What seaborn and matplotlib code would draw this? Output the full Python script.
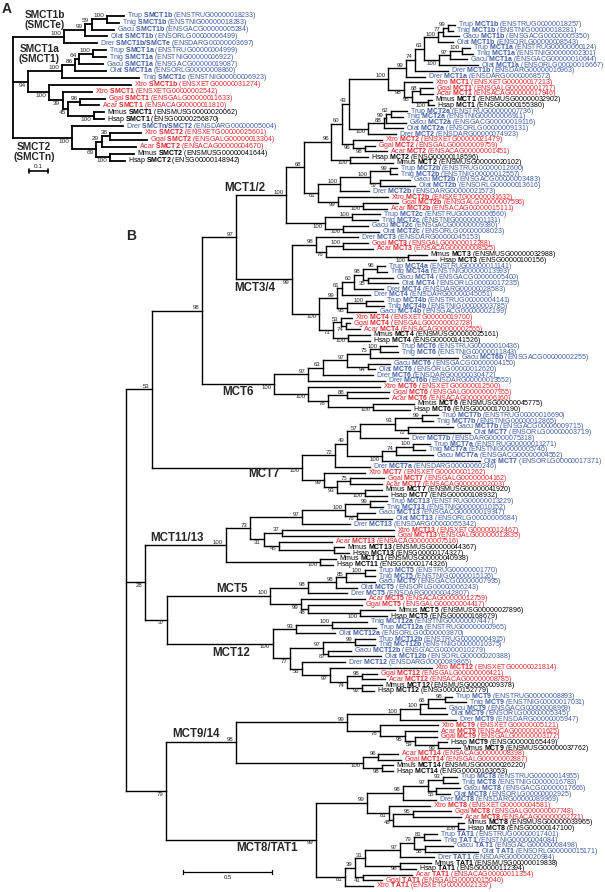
import matplotlib
matplotlib.use("Agg")
import matplotlib.pyplot as plt
from matplotlib.collections import LineCollection
import seaborn as sns

# ---------------------------------------------------------------- data
# Newick trees, branch lengths in substitutions/site, internal labels are
# bootstrap support, optionally followed by "|clade name".
smct_tree = """
(((((Trup_SMCT1b_ENSTRUG00000018233:0.092,Tnig_SMCT1b_ENSTNIG00000018283:0.064)100:0.082,
Gacu_SMCT1b_ENSGACG00000005284:0.122)59:0.037,
Olat_SMCT1b_ENSORLG00000006499:0.120)99:0.113,
Drer_SMCT1b/SMCTe_ENSDARG00000003697:0.179)100|SMCT1b:0.279,
(((((Trup_SMCT1a_ENSTRUG00000004999:0.072,Tnig_SMCT1a_ENSTNIG00000006922:0.072)100:0.078,
Gacu_SMCT1a_ENSGACG00000019087:0.131)64:0.022,
Olat_SMCT1a_ENSORLG00000008860:0.167)86:0.071,
Tnig_SMCT1c_ENSTNIG00000006923:0.423)100|SMCT1a:0.184,
(Xtro_SMCT1b_ENSXETG00000031274:0.446,
(Xtro_SMCT1_ENSXETG00000002542:0.160,
((Ggal_SMCT1_ENSGALG00000011633:0.134,Acar_SMCT1_ENSACAG00000011810:0.104)96:0.064,
(Mmus_SMCT1_ENSMUSG00000020062:0.057,Hsap_SMCT1_ENSG00000256870:0.055)100:0.140)45:0.031)39:0.073)100:0.115)94:0.082,
(Drer_SMCTn/SMCT2_ENSDARG00000005004:0.283,
(((Xtro_SMCT2_ENSXETG00000025601:0.169,Ggal_SMCT2_ENSGALG00000013304:0.205)38:0.045,
Acar_SMCT2_ENSACAG00000004670:0.187)29:0.031,
(Mmus_SMCT2_ENSMUSG00000041644:0.128,Hsap_SMCT2_ENSG00000148942:0.082)100:0.077)69:0.133)100|SMCT2:0.319);
"""

clade_mct1_2 = """
((((((((((((Trup_MCT1b_ENSTRUG00000018257:0.038,Tnig_MCT1b_ENSTNIG00000018281:0.027)99:0.032,
Gacu_MCT1b_ENSGACG00000005350:0.092)77:0.028,
Olat_MCT1b_ENSORLG00000008543:0.086)100:0.076,
(((Trup_MCT1a_ENSTRUG00000000124:0.047,Tnig_MCT1a_ENSTNIG00000002301:0.064)100:0.070,
Gacu_MCT1a_ENSGACG00000010644:0.100)97:0.057,
Olat_MCT1a_ENSORLG00000016667:0.219)100:0.085)63:0.053,
Drer_MCT1b_ENSDARG00000016963:0.186)74:0.051,
Drer_MCT1a_ENSDARG00000068572:0.107)99:0.102,
(Xtro_MCT1_ENSXETG00000017213:0.158,
((Ggal_MCT1_ENSGALG00000001717:0.073,Acar_MCT1_ENSACAG00000017946:0.073)68:0.045,
(Mmus_MCT1_ENSMUSG00000032902:0.023,Hsap_MCT1_ENSG00000155380:0.034)100:0.090)95:0.045)98:0.090)100:0.219,
((((Trup_MCT2a_ENSTRUG00000007736:0.092,Tnig_MCT2a_ENSTNIG00000006911:0.069)62:0.027,
Gacu_MCT2a_ENSGACG00000019116:0.113)99:0.011,
Olat_MCT2a_ENSORLG00000009131:0.107)88:0.089,
Drer_MCT2_ENSDARG00000074923:0.156)100:0.107)43:0.043,
(Xtro_MCT2_ENSXETG00000021479:0.162,
(Ggal_MCT2_ENSGALG00000009759:0.057,Acar_MCT2_ENSACAG00000001451:0.124)98:0.066)96:0.066)60:0.057,
(Hsap_MCT2_ENSG00000118596:0.102,Mmus_MCT2_ENSMUSG00000020102:0.243)100:0.103)96:0.155,
((((Trup_MCT2b_ENSTRUG00000012600:0.040,Tnig_MCT2b_ENSTNIG00000012557:0.040)99:0.109,
(Gacu_MCT2b_ENSGACG00000003483:0.170,Olat_MCT2b_ENSORLG00000013616:0.198)57:0.053)100:0.173,
Drer_MCT2b_ENSDARG00000021573:0.164)100:0.123,
(Xtro_MCT2b_ENSXETG00000031632:0.281,
(Ggal_MCT2b_ENSGALG00000007596:0.196,Acar_MCT2b_ENSACAG00000015111:0.134)100:0.141)99:0.113)61:0.079)68:0.103,
((Trup_MCT2c_ENSTRUG00000006560:0.158,Tnig_MCT2c_ENSTNIG00000001131:0.147)100:0.153,
(Gacu_MCT2c_ENSGACG00000009380:0.141,Olat_MCT2c_ENSORLG00000008023:0.203)100:0.102)100:0.220)100|MCT1/2
"""

clade_mct3_4 = """
((Drer_MCT3_ENSDARG00000045153:0.237,
((Ggal_MCT3_ENSGALG00000012288:0.141,Acar_MCT3_ENSACAG00000008525:0.170)100:0.096,
(Mmus_MCT3_ENSMUSG00000032988:0.107,Hsap_MCT3_ENSG00000100156:0.158)100:0.463)76:0.057)98:0.136,
((((((Trup_MCT4a_ENSTRUG00000011141:0.047,Tnig_MCT4a_ENSTNIG00000013993:0.058)96:0.076,
(Gacu_MCT4_ENSGACG00000005400:0.140,Olat_MCT4_ENSORLG00000017235:0.168)35:0.028)98:0.053,
Drer_MCT4_ENSDARG00000028583:0.164)60:0.069,
Drer_MCT4_ENSDARG00000045051:0.160)61:0.028,
((Trup_MCT4b_ENSTRUG00000004141:0.096,Tnig_MCT4b_ENSTNIG00000003785:0.102)100:0.109,
Gacu_MCT4b_ENSGACG00000002199:0.166)95:0.057)99:0.098,
((Xtro_MCT4_ENSXETG00000019700:0.062,
(Ggal_MCT4_ENSGALG00000002728:0.023,Acar_MCT4_ENSACAG00000002565:0.079)74:0.028)53:0.045,
(Mmus_MCT4_ENSMUSG00000025161:0.123,Hsap_MCT4_ENSG00000141526:0.123)100:0.086)71:0.077)100:0.154)99|MCT3/4
"""

clade_mct6 = """
((((((Trup_MCT6_ENSTRUG00000010436:0.096,Tnig_MCT6_ENSTNIG00000011843:0.102)100:0.057,
Gacu_MCT6b_ENSGACG00000002255:0.497)75:0.132,
(Gacu_MCT6_ENSGACG00000004150:0.124,Olat_MCT6_ENSORLG00000012620:0.040)94:0.120)97:0.136,
Drer_MCT6_ENSDARG00000030472:0.284)63:0.085,
Drer_MCT6b_ENSDARG00000013552:0.437)97:0.189,
(Xtro_MCT6_ENSXETG00000012500:0.408,
((Ggal_MCT6_ENSGALG00000007955:0.239,Acar_MCT6_ENSACAG00000006160:0.233)88:0.104,
(Mmus_MCT6_ENSMUSG00000045775:0.230,Hsap_MCT6_ENSG00000170190:0.207)100:0.254)78:0.116)100:0.189)100|MCT6
"""

clade_mct7 = """
((((((Trup_MCT7b_ENSTRUG00000016690:0.092,Tnig_MCT7b_ENSTNIG00000012865:0.064)99:0.151,
(Gacu_MCT7b_ENSGACG00000009715:0.253,Olat_MCT7_ENSORLG00000003719:0.349)72:0.075)93:0.198,
Drer_MCT7b_ENSDARG00000075318:0.271)57:0.075,
(((Trup_MCT7a_ENSTRUG00000011271:0.094,Tnig_MCT7a_ENSTNIG00000005746:0.066)100:0.098,
Gacu_MCT7a_ENSGACG00000004552:0.209)74:0.081,
Olat_MCT7_ENSORLG00000017371:0.555)100:0.198)49:0.066,
Drer_MCT7a_ENSDARG00000060246:0.198)72:0.185,
(Xtro_MCT7_ENSXETG00000001262:0.232,
((Ggal_MCT7_ENSGALG00000004162:0.192,Acar_MCT7_ENSACAG00000002003:0.181)75:0.075,
(Mmus_MCT7_ENSMUSG00000041920:0.096,Hsap_MCT7_ENSG00000108932:0.124)100:0.160)93:0.072)99:0.123)100|MCT7
"""

clade_mct11_13 = """
(((((Trup_MCT13_ENSTRUG00000013229:0.096,Tnig_MCT13_ENSTNIG00000010152:0.073)99:0.141,
(Gacu_MCT13_ENSGACG00000019347:0.102,Olat_MCT13_ENSORLG00000006684:0.198)76:0.068)100:0.245,
Drer_MCT13_ENSDARG00000055342:0.273)97:0.292,
((Xtro_MCT13_ENSXETG00000012467:0.634,Ggal_MCT13_ENSGALG00000012835:0.634)37:0.104,
(Acar_MCT13_ENSACAG00000007516:0.303,
(Mmus_MCT13_ENSMUSG00000044367:0.060,Hsap_MCT13_ENSG00000174327:0.089):0.311)45:0.085)31:0.077)73:0.137,
(Mmus_MCT11_ENSMUSG00000040938:0.090,Hsap_MCT11_ENSG00000174326:0.073)100:0.533)100|MCT11/13
"""

clade_mct5 = """
(((((Trup_MCT5_ENSTRUG00000001770:0.057,Tnig_MCT5_ENSTNIG00000015126:0.057)100:0.103,
Gacu_MCT5_ENSGACG00000007935:0.160)85:0.060,
Olat_MCT5_ENSORLG00000006243:0.119)98:0.156,
Drer_MCT5_ENSDARG00000042807:0.219)98:0.216,
(Acar_MCT5_ENSACAG00000012759:0.362,
(Ggal_MCT5_ENSGALG00000004417:0.305,
(Mmus_MCT5_ENSMUSG00000027896:0.198,Hsap_MCT5_ENSG00000168679:0.153)100:0.294)48:0.040)99:0.175)100|MCT5
"""

clade_mct12 = """
(((Tnig_MCT12a_ENSTNIG00000007447:0.199,Trup_MCT12a_ENSTRUG00000000965:0.250)100:0.202,
Olat_MCT12a_ENSORLG00000003870:0.220)93:0.132,
(((Trup_MCT12b_ENSTRUG00000004915:0.113,Tnig_MCT12b_ENSTNIG00000010375:0.113)99:0.182,
(Gacu_MCT12b_ENSGACG00000010279:0.128,Olat_MCT12b_ENSORLG00000020388:0.298)87:0.032)97:0.185,
(Drer_MCT12_ENSDARG00000089865:0.245,
(Xtro_MCT12_ENSXETG00000021814:0.576,
((Ggal_MCT12_ENSGALG00000006421:0.086,Acar_MCT12_ENSACAG00000008785:0.132)98:0.085,
(Mmus_MCT12_ENSMUSG00000009378:0.109,Hsap_MCT12_ENSG00000152779:0.064)92:0.090)74:0.094)97:0.160)56:0.066)77:0.098)100|MCT12
"""

clade_mct9_14 = """
((((((Trup_MCT9_ENSTRUG00000008893:0.040,Tnig_MCT9_ENSTNIG00000017031:0.119)98:0.098,
Gacu_MCT9_ENSGACG00000008969:0.098)66:0.044,
Olat_MCT9_ENSORLG00000005345:0.153)100:0.113,
Drer_MCT9_ENSDARG00000005947:0.316)100:0.301,
(Xtro_MCT9_ENSXETG00000005121:0.328,
(Acar_MCT9_ENSACAG00000001625:0.181,
(Ggal_MCT9_ENSGALG00000003172:0.124,
(Hsap_MCT9_ENSG00000165449:0.049,Mmus_MCT9_ENSMUSG00000037762:0.123)99:0.132)59:0.057)95:0.141)78:0.188)99:0.627,
((Acar_MCT14_ENSACAG00000008398:0.111,Ggal_MCT14_ENSGALG00000002887:0.128)96:0.088,
(Mmus_MCT14_ENSMUSG00000026220:0.064,Hsap_MCT14_ENSG00000163053:0.064)98:0.107)100:0.718)98|MCT9/14
"""

clade_mct8_tat1 = """
(((((Trup_MCT8_ENSTRUG00000014955:0.077,Tnig_MCT8_ENSTNIG00000016783:0.083)93:0.085,
(Gacu_MCT8_ENSGACG00000017666:0.132,Olat_MCT8_ENSORLG00000002925:0.075)55:0.047)97:0.141,
Drer_MCT8_ENSDARG00000089969:0.185)98:0.207,
(Xtro_MCT8_ENSXETG00000004581:0.232,
((Ggal_MCT8_ENSGALG00000007748:0.216,Acar_MCT8_ENSACAG00000002721:0.273)95:0.111,
(Mmus_MCT8_ENSMUSG00000033965:0.032,Hsap_MCT8_ENSG00000147100:0.032)100:0.369)48:0.023)81:0.126)99:0.286,
((((((Trup_TAT1_ENSTRUG00000017401:0.077,Tnig_TAT1_ENSTNIG00000004084:0.094)81:0.053,
(Gacu_TAT1_ENSGACG00000008498:0.158,Olat_TAT1_ENSORLG00000015171:0.300)58:0.062)79:0.079,
Drer_TAT1_ENSDARG00000020984:0.192)97:0.198,
(Mmus_TAT1_ENSMUSG00000019838:0.175,Hsap_TAT1_ENSG00000112394:0.090)96:0.198)31:0.057,
(Acar_TAT1_ENSACAG00000011354:0.275,Ggal_TAT1_ENSGALG00000015040:0.106)41:0.047)39:0.057,
Xtro_TAT1_ENSXETG00000021337:0.158)81:0.164)99|MCT8/TAT1
"""

mct_backbone = ("(((({mct1_2}:0.281,{mct3_4}:0.316)97:0.194,{mct6}:0.410)98:0.281,{mct7}:0.849)53:0.147,"
                "({mct11_13}:0.456,({mct5}:0.580,{mct12}:0.595)37:0.126)28:0.107,"
                "({mct9_14}:0.394,{mct8_tat1}:0.847)79:0.226);")

mct_tree = mct_backbone.format(mct1_2=clade_mct1_2, mct3_4=clade_mct3_4, mct6=clade_mct6,
                               mct7=clade_mct7, mct11_13=clade_mct11_13, mct5=clade_mct5,
                               mct12=clade_mct12, mct9_14=clade_mct9_14, mct8_tat1=clade_mct8_tat1)

fish = ["Trup", "Tnig", "Gacu", "Olat", "Drer"]
amphibian_sauropsid = ["Xtro", "Ggal", "Acar"]
mammal = ["Mmus", "Hsap"]

clade_titles = {"SMCT1b": "SMCT1b\n(SMCTe)", "SMCT1a": "SMCT1a\n(SMCT1)", "SMCT2": "SMCT2\n(SMCTn)"}

# ---------------------------------------------------------------- style
BLUE = "#3d5ca9"
RED = "#e3262b"
species_color = {}
for sp in fish:
    species_color[sp] = BLUE
for sp in amphibian_sauropsid:
    species_color[sp] = RED
for sp in mammal:
    species_color[sp] = "black"

W, H = 605, 892

# clade label placement: (right edge dx, centre dy) in pixels from the clade node
clade_offset = {
    "SMCT1b": (0.7, -16.8), "SMCT1a": (-2.0, -17.3), "SMCT2": (-16.7, 14.3),
    "MCT1/2": (-20.7, -7.3), "MCT3/4": (-17.0, 8.7), "MCT6": (-20.3, 8.0),
    "MCT7": (-22.3, 6.4), "MCT11/13": (-22.4, -7.0), "MCT5": (-21.7, -7.0),
    "MCT12": (-22.0, 9.2), "MCT9/14": (-16.4, -8.6), "MCT8/TAT1": (-17.7, 8.0),
}

panel_a = dict(root_px=13.3, top_px=15.7, px_unit=183.0, px_leaf=6.9, lw=1.3,
               leaf_fs=5.0, boot_fs=4.6, boot_dy=3.5, clade_fs=7.3,
               bar=(0.1, 29.3, 171.0, 166.7))
panel_b = dict(root_px=126.0, top_px=25.0, px_unit=177.0, px_leaf=5.74, lw=1.0,
               leaf_fs=5.0, boot_fs=4.3, boot_dy=3.0, clade_fs=8.3,
               bar=(0.5, 183.3, 872.3, 877.6))


def parse_newick(text):
    s = "".join(text.split()).rstrip(";")
    pos = 0

    def read_node():
        nonlocal pos
        node = {"children": [], "name": "", "length": 0.0}
        if s[pos] == "(":
            pos += 1
            node["children"].append(read_node())
            while s[pos] == ",":
                pos += 1
                node["children"].append(read_node())
            pos += 1
        start = pos
        while pos < len(s) and s[pos] not in ",():":
            pos += 1
        node["name"] = s[start:pos]
        if pos < len(s) and s[pos] == ":":
            pos += 1
            start = pos
            while pos < len(s) and s[pos] not in ",()":
                pos += 1
            node["length"] = float(s[start:pos])
        return node

    return read_node()


def place(node, x0, leaves):
    node["x"] = x0 + node["length"]
    if node["children"]:
        for child in node["children"]:
            place(child, node["x"], leaves)
        node["y"] = (node["children"][0]["y"] + node["children"][-1]["y"]) / 2
    else:
        node["y"] = len(leaves)
        leaves.append(node)


def walk(node, parent=None, rank=0):
    yield node, parent, rank
    for i, child in enumerate(node["children"]):
        yield from walk(child, node, i)


def draw_tree(ax, newick, cfg):
    root = parse_newick(newick)
    leaves = []
    place(root, 0.0, leaves)
    ux = 1.0 / cfg["px_unit"]
    uy = 1.0 / cfg["px_leaf"]
    ax.set_xlim(-cfg["root_px"] * ux, (W - cfg["root_px"]) * ux)
    ax.set_ylim((H - cfg["top_px"]) * uy, -cfg["top_px"] * uy)
    ax.set_axis_off()

    segs = []
    for node, parent, rank in walk(root):
        kids = node["children"]
        if parent is not None:
            segs.append([(parent["x"], node["y"]), (node["x"], node["y"])])
        if kids:
            segs.append([(node["x"], kids[0]["y"]), (node["x"], kids[-1]["y"])])
        if not kids:
            sp, rest = node["name"].split("_", 1)
            gene, ens = rest.rsplit("_", 1)
            ax.text(node["x"] + 3 * ux, node["y"], f"{sp} $\\mathbf{{{gene}}}$ ({ens})",
                    color=species_color[sp], fontsize=cfg["leaf_fs"], ha="left", va="center")
        elif parent is not None and node["name"]:
            support, _, clade = node["name"].partition("|")
            if support:
                dy = -cfg["boot_dy"] if rank == 0 else cfg["boot_dy"]
                ax.text(node["x"] - 2.5 * ux, node["y"] + dy * uy, support,
                        fontsize=cfg["boot_fs"], ha="right", va="center")
            if clade:
                dx, dy = clade_offset[clade]
                ax.text(node["x"] + dx * ux, node["y"] + dy * uy, clade_titles.get(clade, clade),
                        fontsize=cfg["clade_fs"], fontweight="bold", ha="right", va="center",
                        multialignment="center", linespacing=0.95)
    ax.add_collection(LineCollection(segs, colors="black", linewidths=cfg["lw"],
                                     capstyle="projecting"))

    # scale bar
    length, x_px, y_px, label_px = cfg["bar"]
    x0 = (x_px - cfg["root_px"]) * ux
    yb = (y_px - cfg["top_px"]) * uy
    ax.plot([x0, x0 + length], [yb, yb], color="black", lw=cfg["lw"] * 0.9)
    for xe in (x0, x0 + length):
        ax.plot([xe, xe], [yb - 1.8 * uy, yb + 1.8 * uy], color="black", lw=cfg["lw"] * 0.9)
    ax.text(x0 + length / 2, (label_px - cfg["top_px"]) * uy, f"{length:g}",
            fontsize=cfg["boot_fs"], ha="center", va="center")
    return leaves


sns.set_theme(style="white")
plt.rcParams["font.family"] = ["Liberation Sans", "DejaVu Sans"]
plt.rcParams["mathtext.fontset"] = "custom"
plt.rcParams["mathtext.rm"] = "Liberation Sans"
plt.rcParams["mathtext.bf"] = "Liberation Sans:bold"
plt.rcParams["mathtext.it"] = "Liberation Sans:italic"

fig = plt.figure(figsize=(W / 100, H / 100), dpi=100, facecolor="white")
ax_a = fig.add_axes([0, 0, 1, 1])
ax_b = fig.add_axes([0, 0, 1, 1])
leaves_a = draw_tree(ax_a, smct_tree, panel_a)
leaves_b = draw_tree(ax_b, mct_tree, panel_b)

fig.text(1.5 / W, 1 - 2.4 / H, "A", fontsize=10, fontweight="bold", ha="left", va="top")
fig.text(126.5 / W, 1 - 229.0 / H, "B", fontsize=10, fontweight="bold", ha="left", va="top")

fig.savefig("out.png", dpi=100)
